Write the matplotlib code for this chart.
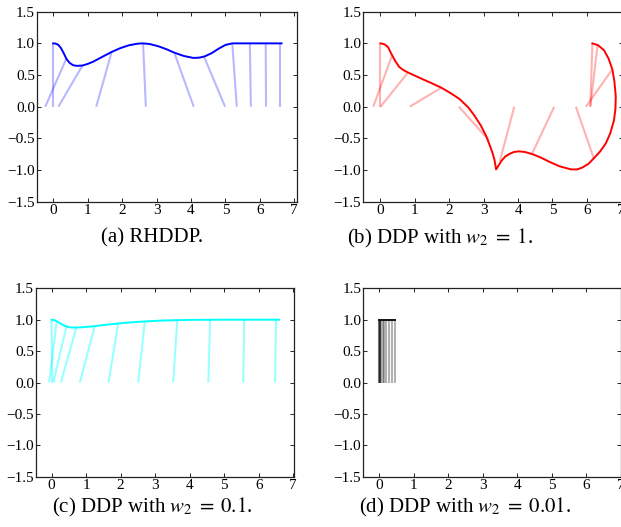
import matplotlib
matplotlib.use("Agg")
import matplotlib.pyplot as plt

plt.rcParams['font.family'] = ['Liberation Serif', 'DejaVu Serif']
plt.rcParams['mathtext.fontset'] = 'stix'

# ---------------- data ----------------
# (a) RHDDP
a_curve_x = [0.0, 0.08, 0.15, 0.22, 0.30, 0.39, 0.48, 0.58, 0.68, 0.85, 1.0, 1.16, 1.40, 1.70,
             1.95, 2.20, 2.45, 2.60, 2.80, 3.05, 3.30, 3.53, 3.80, 4.07, 4.25, 4.40, 4.60,
             4.80, 5.00, 5.20, 5.60, 6.00, 6.40, 6.63]
a_curve_y = [1.0, 0.995, 0.975, 0.93, 0.85, 0.75, 0.69, 0.655, 0.645, 0.65, 0.675, 0.71, 0.78, 0.865,
             0.925, 0.97, 0.995, 1.0, 0.99, 0.955, 0.905, 0.85, 0.80, 0.77, 0.775, 0.795, 0.845,
             0.915, 0.975, 1.0, 1.0, 1.0, 1.0, 1.0]
a_base_x = [-0.23, 0.0, 0.15, 1.25, 2.69, 4.08, 4.99, 5.33, 5.74, 6.18, 6.58]
a_tip_x = [0.39, 0.0, 0.85, 1.70, 2.61, 3.53, 4.38, 5.20, 5.71, 6.17, 6.58]
a_tip_y = [0.77, 1.0, 0.65, 0.87, 1.0, 0.83, 0.79, 1.0, 1.0, 1.0, 1.0]

# (b) DDP with w2 = 1
b_curve_x = [0.0, 0.12, 0.22, 0.32, 0.42, 0.54, 0.66, 0.80, 1.00, 1.20, 1.45, 1.77, 2.05,
             2.30, 2.55, 2.73, 2.92, 3.07, 3.17, 3.25, 3.31, 3.34, 3.36,
             3.42, 3.51, 3.62, 3.75, 3.88, 4.02, 4.20, 4.42, 4.65, 4.91, 5.20, 5.54,
             5.72, 5.87, 6.05, 6.21, 6.38, 6.55, 6.68, 6.79, 6.83, 6.84, 6.80, 6.74,
             6.63, 6.50, 6.33, 6.16]
b_curve_y = [1.0, 0.985, 0.94, 0.83, 0.73, 0.63, 0.58, 0.54, 0.49, 0.44, 0.38, 0.30, 0.21,
             0.12, -0.01, -0.14, -0.30, -0.46, -0.60, -0.72, -0.83, -0.92, -0.99,
             -0.94, -0.86, -0.79, -0.745, -0.715, -0.705, -0.715, -0.75, -0.80, -0.87, -0.94, -0.99,
             -0.99, -0.96, -0.90, -0.81, -0.71, -0.58, -0.42, -0.21, -0.03, 0.16, 0.40, 0.59,
             0.76, 0.89, 0.97, 1.0]
b_base_x = [-0.21, 0.0, 0.0, 0.85, 2.28, 3.89, 5.05, 5.68, 5.97, 6.10, 6.10]
b_tip_x = [0.33, 0.0, 0.80, 1.77, 3.15, 3.47, 4.40, 6.21, 6.74, 6.16, 6.31]
b_tip_y = [0.80, 1.0, 0.54, 0.30, -0.53, -0.86, -0.75, -0.83, 0.59, 1.0, 0.97]

# (c) DDP with w2 = 0.1
c_curve_x = [0.0, 0.10, 0.20, 0.30, 0.43, 0.55, 0.70, 0.90, 1.21, 1.50, 1.93, 2.30, 2.70,
             3.10, 3.60, 4.20, 5.00, 5.80, 6.59]
c_curve_y = [1.0, 0.99, 0.96, 0.925, 0.89, 0.877, 0.875, 0.88, 0.895, 0.915, 0.94, 0.958, 0.972,
             0.984, 0.993, 0.998, 1.0, 1.0, 1.0]
c_base_x = [-0.07, 0.02, 0.05, 0.27, 0.82, 1.65, 2.51, 3.52, 4.54, 5.55, 6.47]
c_tip_x = [0.15, 0.0, 0.43, 0.72, 1.25, 1.93, 2.70, 3.64, 4.59, 5.58, 6.50]
c_tip_y = [0.98, 1.0, 0.89, 0.875, 0.895, 0.94, 0.972, 0.993, 1.0, 1.0, 1.0]

# (d) DDP with w2 = 0.01
d_curve_x = [0.0, 0.05, 0.10, 0.15, 0.20, 0.25, 0.30, 0.35, 0.40, 0.45]
d_curve_y = [1.0, 1.0, 1.0, 1.0, 1.0, 1.0, 1.0, 1.0, 1.0, 1.0]
d_base_x = [0.0, 0.005, 0.01, 0.02, 0.035, 0.06, 0.10, 0.15, 0.21, 0.28, 0.36, 0.45]
d_tip_x = [0.0, 0.005, 0.01, 0.02, 0.035, 0.06, 0.10, 0.15, 0.21, 0.28, 0.36, 0.45]
d_tip_y = [1.0, 1.0, 1.0, 1.0, 1.0, 1.0, 1.0, 1.0, 1.0, 1.0, 1.0, 1.0]

captions = ["(a) RHDDP.", "(b) DDP with $w_2\\;=\\;1$.",
            "(c) DDP with $w_2\\;=\\;0.1$.", "(d) DDP with $w_2\\;=\\;0.01$."]
x_ticks = [0, 1, 2, 3, 4, 5, 6, 7]
y_ticks = [-1.5, -1.0, -0.5, 0.0, 0.5, 1.0, 1.5]
y_ticklabels = ["\u22121.5", "\u22121.0", "\u22120.5", "0.0", "0.5", "1.0", "1.5"]

# ---------------- figure ----------------
W, H = 621, 527
fig = plt.figure(figsize=(W / 100, H / 100), dpi=100)

panels = [
    dict(rect=[37 / W, 1 - 201.7 / H, 259.7 / W, 190 / H], xlim=(-0.47, 7.07),
         cx=a_curve_x, cy=a_curve_y, bx=a_base_x, tx=a_tip_x, ty=a_tip_y,
         color='#0000ff', pcolor='#0000ff', palpha=0.28, cap=(152, 238)),
    dict(rect=[363.3 / W, 1 - 201.7 / H, 259.7 / W, 190 / H], xlim=(-0.5, 7.05),
         cx=b_curve_x, cy=b_curve_y, bx=b_base_x, tx=b_tip_x, ty=b_tip_y,
         color='#ff0000', pcolor='#ff0000', palpha=0.3, cap=(440, 238)),
    dict(rect=[36 / W, 1 - 476.7 / H, 258 / W, 188.4 / H], xlim=(-0.45, 7.02),
         cx=c_curve_x, cy=c_curve_y, bx=c_base_x, tx=c_tip_x, ty=c_tip_y,
         color='#00ffff', pcolor='#00ffff', palpha=0.4, cap=(152, 507)),
    dict(rect=[363.3 / W, 1 - 476.7 / H, 258 / W, 188.4 / H], xlim=(-0.46, 7.02),
         cx=d_curve_x, cy=d_curve_y, bx=d_base_x, tx=d_tip_x, ty=d_tip_y,
         color='#111111', pcolor='#000000', palpha=0.3, cap=(465, 507)),
]

for p, cap in zip(panels, captions):
    ax = fig.add_axes(p['rect'])
    for b, tx, ty in zip(p['bx'], p['tx'], p['ty']):
        ax.plot([b, tx], [0.0, ty], color=p['pcolor'], alpha=p['palpha'], lw=1.5,
                solid_capstyle='butt')
    ax.plot(p['cx'], p['cy'], color=p['color'], lw=1.4)
    ax.set_xlim(*p['xlim'])
    ax.set_ylim(-1.5, 1.5)
    ax.set_xticks(x_ticks)
    ax.set_yticks(y_ticks)
    ax.set_yticklabels(y_ticklabels)
    ax.tick_params(direction='in', top=True, right=True, length=3, width=0.6,
                   labelsize=11, colors='black')
    ax.tick_params(axis='x', pad=2)
    ax.tick_params(axis='y', pad=1.5)
    for s in ax.spines.values():
        s.set_linewidth(0.9)
        s.set_color('#222222')
    fig.text(p['cap'][0] / W, 1 - p['cap'][1] / H, cap, ha='center', va='center',
             fontsize=15)

fig.savefig("out.png", dpi=100)
